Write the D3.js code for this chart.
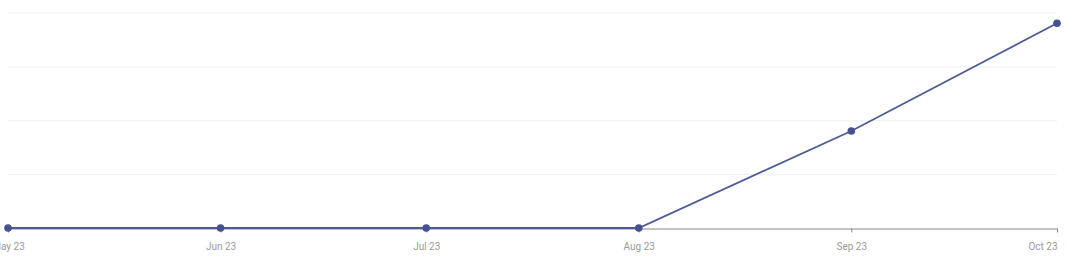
<!DOCTYPE html>
<html>
<head>
<meta charset="utf-8">
<script src="https://cdn.jsdelivr.net/npm/d3@7"></script>
<style>
  body { margin: 0; background: #fff; }
  svg { display: block; font-family: Roboto, sans-serif; }
</style>
</head>
<body>
<svg id="chart" width="1080" height="267"></svg>
<script>
// monthly values
var months = ["2023-05-01", "2023-06-01", "2023-07-01", "2023-08-01", "2023-09-01", "2023-10-01"];
var values = [0, 0, 0, 0, 9, 19];
var yTicks = [0, 5, 10, 15, 20];

var parse = d3.timeParse("%Y-%m-%d");
var data = months.map(function(m, i) {
  return { date: parse(m), value: values[i] };
});

var margin = { top: 13, right: 23, bottom: 38.5, left: 8 };
var svg = d3.select("#chart");
var width = +svg.attr("width") - margin.left - margin.right,
  height = +svg.attr("height") - margin.top - margin.bottom;

var g = svg.append("g").attr("transform", "translate(" + margin.left + "," + margin.top + ")");

var x = d3.scaleTime()
  .domain(d3.extent(data, function(d) { return d.date; }))
  .range([0, width]);

var y = d3.scaleLinear().domain([0, 20]).range([height, 0]);

// grid
g.selectAll(".grid")
  .data(yTicks.slice(1))
  .enter()
  .append("line")
  .attr("x1", 0)
  .attr("x2", width)
  .attr("y1", function(d) { return y(d); })
  .attr("y2", function(d) { return y(d); })
  .style("stroke", "#efefef")
  .style("stroke-width", 1);

// x axis
var xAxis = g.append("g")
  .attr("transform", "translate(0," + height + ")")
  .call(d3.axisBottom(x)
    .tickValues(data.map(function(d) { return d.date; }))
    .tickFormat(d3.timeFormat("%b %y"))
    .tickSizeInner(4)
    .tickSizeOuter(0)
    .tickPadding(10));

xAxis.select(".domain").style("stroke", "#888");
xAxis.selectAll(".tick line").style("stroke", "#888");
xAxis.selectAll(".tick text")
  .style("fill", "#9a9a9a")
  .style("font-size", "10px")
  .style("font-family", "Roboto, sans-serif");
xAxis.selectAll(".tick text")
  .filter(function(d, i, n) { return i === n.length - 1; })
  .attr("text-anchor", "end");

// line
var line = d3.line()
  .x(function(d) { return x(d.date); })
  .y(function(d) { return y(d.value) - 0.5; });

g.append("path")
  .datum(data)
  .attr("d", line)
  .style("fill", "none")
  .style("stroke", "#4f5b96")
  .style("stroke-width", 1.8);

g.selectAll(".dot")
  .data(data)
  .enter()
  .append("circle")
  .attr("cx", function(d) { return x(d.date); })
  .attr("cy", function(d) { return y(d.value) - 0.5; })
  .attr("r", 3.8)
  .style("fill", "#46528f");
</script>
</body>
</html>
